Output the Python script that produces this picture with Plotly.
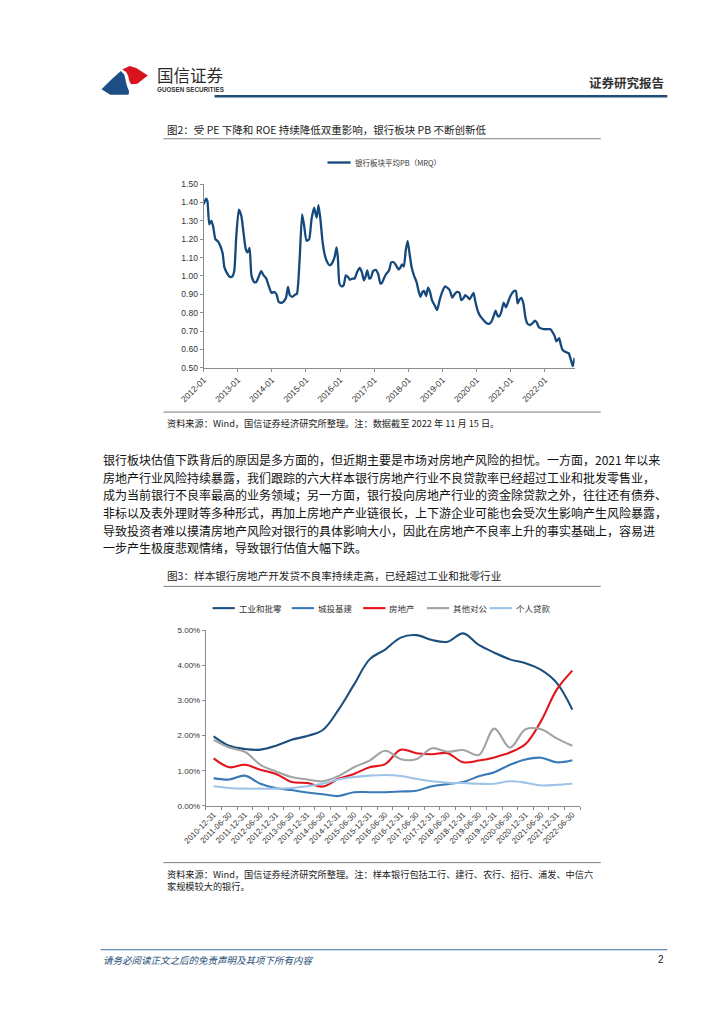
import plotly.graph_objects as go

W, H = 724, 1024

# ---------------- data: chart 1 (银行板块平均PB) ----------------
pb_dates = [
    "2012-01-01","2012-01-28","2012-02-11","2012-03-02","2012-03-25","2012-04-12","2012-05-06","2012-06-03",
    "2012-06-27","2012-07-24","2012-08-10","2012-09-14","2012-10-08","2012-11-04","2012-11-25","2012-12-15",
    "2013-01-12","2013-02-08","2013-03-03","2013-03-27","2013-04-16","2013-05-07","2013-05-27","2013-06-24",
    "2013-07-18","2013-08-11","2013-09-08","2013-10-05","2013-11-02","2013-11-26","2013-12-27",
    "2014-01-24","2014-02-19","2014-03-14","2014-04-07","2014-05-04","2014-06-01","2014-06-22","2014-07-12",
    "2014-08-09","2014-08-30","2014-09-26","2014-10-24","2014-11-20","2014-12-10",
    "2015-01-07","2015-02-04","2015-03-01","2015-03-29","2015-04-25","2015-05-15","2015-06-06","2015-06-26",
    "2015-07-23","2015-08-17","2015-09-10","2015-10-07","2015-11-04","2015-11-24","2015-12-08","2015-12-25",
    "2016-01-18","2016-02-08","2016-03-02","2016-03-26","2016-04-16","2016-05-10","2016-06-03","2016-07-01",
    "2016-07-28","2016-08-21","2016-09-11","2016-09-28","2016-10-18","2016-11-08","2016-11-25","2016-12-19",
    "2017-01-16","2017-02-13","2017-03-07","2017-03-24","2017-04-17","2017-05-11","2017-06-08","2017-07-01",
    "2017-07-29","2017-08-22","2017-09-19","2017-10-06","2017-10-23","2017-11-13","2017-12-03","2017-12-24",
    "2018-01-14","2018-02-04","2018-03-01","2018-03-29","2018-04-18","2018-05-09","2018-06-02","2018-06-19",
    "2018-07-09","2018-07-30","2018-08-20","2018-09-10","2018-10-07","2018-11-04","2018-12-01","2018-12-29",
    "2019-01-29","2019-02-20","2019-03-19","2019-04-16","2019-05-10","2019-06-03","2019-07-01","2019-07-21",
    "2019-08-11","2019-09-01","2019-09-25","2019-10-19","2019-11-08","2019-11-29","2019-12-19",
    "2020-01-16","2020-02-13","2020-03-14","2020-04-17","2020-05-14","2020-06-08","2020-07-05","2020-07-22",
    "2020-08-09","2020-08-26","2020-09-19","2020-10-16","2020-11-10","2020-12-03",
    "2021-01-01","2021-02-04","2021-02-24","2021-03-15","2021-04-05","2021-04-22","2021-05-16","2021-06-05",
    "2021-06-26","2021-07-23","2021-08-20","2021-09-17","2021-10-07","2021-10-28","2021-11-24","2021-12-25",
    "2022-01-29","2022-03-02","2022-03-26","2022-04-16","2022-05-03","2022-05-20","2022-06-03","2022-06-20",
    "2022-07-07","2022-07-27","2022-08-21","2022-09-12","2022-10-05","2022-10-26","2022-11-05","2022-11-15",
]
pb_values = [
    1.389,1.42,1.406,1.281,1.30,1.27,1.20,1.188,1.164,1.12,1.048,1.01,0.994,0.997,1.03,1.21,
    1.36,1.326,1.236,1.146,1.128,1.152,1.003,0.967,0.967,0.994,1.026,1.003,0.985,0.949,0.908,
    0.913,0.90,0.859,0.854,0.859,0.881,0.94,0.895,0.886,0.895,0.904,1.083,1.335,1.281,
    1.191,1.20,1.308,1.371,1.317,1.385,1.30,1.191,1.11,1.074,1.057,1.069,1.105,1.155,1.10,0.958,
    0.943,0.949,1.003,0.994,0.979,0.985,0.985,1.021,1.044,1.021,0.976,0.994,1.03,0.985,0.99,1.026,
    1.033,1.008,0.958,0.962,0.99,1.012,1.03,1.074,1.074,1.057,1.035,1.044,1.062,1.051,1.137,1.191,
    1.119,1.048,1.003,0.967,0.922,0.886,0.913,0.918,0.890,0.936,0.913,0.868,0.841,0.814,0.868,0.913,
    0.943,0.936,0.922,0.882,0.90,0.913,0.908,0.868,0.877,0.895,0.886,0.873,0.890,0.908,0.859,
    0.805,0.778,0.760,0.742,0.739,0.751,0.787,0.811,0.787,0.778,0.80,0.854,0.829,0.859,
    0.895,0.918,0.918,0.850,0.872,0.881,0.850,0.778,0.742,0.733,0.742,0.757,0.746,0.721,0.714,0.710,
    0.710,0.710,0.692,0.671,0.644,0.653,0.662,0.626,0.599,0.590,0.584,0.580,0.545,0.509,0.531,0.554,
]
pb_name = "银行板块平均PB（MRQ）"
pb_color = "#16497B"
pb_yticks = [0.50, 0.60, 0.70, 0.80, 0.90, 1.00, 1.10, 1.20, 1.30, 1.40, 1.50]

# ---------------- data: chart 2 (不良率, %) ----------------
npl_dates = [
    "2010-12-31","2011-06-30","2011-12-31","2012-06-30","2012-12-31","2013-06-30","2013-12-31","2014-06-30",
    "2014-12-31","2015-06-30","2015-12-31","2016-06-30","2016-12-31","2017-06-30","2017-12-31","2018-06-30",
    "2018-12-31","2019-06-30","2019-12-31","2020-06-30","2020-12-31","2021-06-30","2021-12-31","2022-06-30",
]
industry_wholesale = [1.98,1.71,1.62,1.60,1.71,1.88,1.99,2.16,2.73,3.45,4.17,4.45,4.79,4.86,4.72,4.67,
                      4.91,4.58,4.36,4.17,4.06,3.87,3.50,2.74]
lgfv_infra = [0.79,0.75,0.86,0.63,0.51,0.45,0.38,0.33,0.28,0.39,0.39,0.39,0.41,0.43,0.56,0.62,
              0.68,0.84,0.96,1.17,1.32,1.37,1.24,1.30]
real_estate = [1.35,1.10,1.17,1.03,0.91,0.68,0.65,0.55,0.77,0.91,1.10,1.19,1.60,1.50,1.47,1.50,
               1.24,1.29,1.38,1.52,1.76,2.42,3.31,3.85]
other_corp = [1.88,1.66,1.54,1.17,0.98,0.82,0.75,0.70,0.85,1.10,1.29,1.57,1.33,1.33,1.64,1.54,
              1.59,1.45,2.20,1.66,2.18,2.18,1.92,1.71]
personal = [0.56,0.51,0.49,0.49,0.49,0.51,0.56,0.63,0.75,0.82,0.86,0.88,0.85,0.77,0.70,0.66,
            0.65,0.63,0.63,0.70,0.66,0.58,0.60,0.63]
npl_names = ["工业和批零", "城投基建", "房地产", "其他对公", "个人贷款"]
npl_values = [industry_wholesale, lgfv_infra, real_estate, other_corp, personal]
npl_colors = ["#1B4F7E", "#3A78B8", "#E3131B", "#A3A3A3", "#9EC3E6"]
npl_yticks = [0, 1, 2, 3, 4, 5]
npl_yticktext = ["0.00%", "1.00%", "2.00%", "3.00%", "4.00%", "5.00%"]

# ---------------- texts ----------------
fig2_title = "图2：受 PE 下降和 ROE 持续降低双重影响，银行板块 PB 不断创新低"
fig2_source = "资料来源：Wind，国信证券经济研究所整理。注：数据截至 2022 年 11 月 15 日。"
body_lines = [
    "银行板块估值下跌背后的原因是多方面的，但近期主要是市场对房地产风险的担忧。一方面，2021 年以来",
    "房地产行业风险持续暴露，我们跟踪的六大样本银行房地产行业不良贷款率已经超过工业和批发零售业，",
    "成为当前银行不良率最高的业务领域；另一方面，银行投向房地产行业的资金除贷款之外，往往还有债券、",
    "非标以及表外理财等多种形式，再加上房地产产业链很长，上下游企业可能也会受次生影响产生风险暴露，",
    "导致投资者难以摸清房地产风险对银行的具体影响大小，因此在房地产不良率上升的事实基础上，容易进",
    "一步产生极度悲观情绪，导致银行估值大幅下跌。",
]
fig3_title = "图3：样本银行房地产开发贷不良率持续走高，已经超过工业和批零行业"
fig3_source = ["资料来源：Wind，国信证券经济研究所整理。注：样本银行包括工行、建行、农行、招行、浦发、中信六",
               "家规模较大的银行。"]
footer_text = "请务必阅读正文之后的免责声明及其项下所有内容"
page_no = "2"
header_right = "证券研究报告"
logo_cn = "国信证券"
logo_en = "GUOSEN SECURITIES"

CJK = "Noto Sans CJK SC"
NUM = "Liberation Sans"

def px(x):
    return x / W

def py(y):
    return 1 - y / H

fig = go.Figure()

fig.add_trace(go.Scatter(
    x=pb_dates, y=pb_values, name=pb_name, mode="lines",
    line=dict(color=pb_color, width=2.3, shape="spline", smoothing=0.5),
    xaxis="x", yaxis="y",
))

for name, vals, col in zip(npl_names, npl_values, npl_colors):
    fig.add_trace(go.Scatter(
        x=npl_dates, y=vals, name=name, mode="lines",
        line=dict(color=col, width=2.1, shape="spline", smoothing=1.0),
        xaxis="x2", yaxis="y2",
    ))

axis_col = "#8C8C8C"
tick_font = dict(family=NUM, size=8.5, color="#333333")
tick_font2 = dict(family=NUM, size=8, color="#333333")

fig.update_layout(
    width=W, height=H,
    margin=dict(l=0, r=0, t=0, b=0),
    paper_bgcolor="white", plot_bgcolor="white",
    font=dict(family=CJK, color="#222222"),
    showlegend=False,
    xaxis=dict(
        domain=[px(176.7), px(561)], anchor="y", type="date",
        range=["2012-01-01", "2022-11-15"],
        tick0="2012-01-01", dtick="M12", tickformat="%Y-%m", tickangle=-45,
        showgrid=False, zeroline=False, showline=True, linecolor=axis_col, linewidth=1,
        ticks="outside", ticklen=3, tickcolor=axis_col, tickfont=tick_font,
    ),
    yaxis=dict(
        domain=[py(358.3), py(172.7)], anchor="x",
        range=[0.5, 1.5], tickvals=pb_yticks, tickformat=".2f",
        showgrid=False, zeroline=False, showline=True, linecolor=axis_col, linewidth=1,
        ticks="outside", ticklen=3, tickcolor=axis_col, tickfont=tick_font,
    ),
    xaxis2=dict(
        domain=[px(179), px(566.7)], anchor="y2", type="category",
        categoryorder="array", categoryarray=npl_dates,
        range=[-0.5, len(npl_dates) - 0.5], tickangle=-45, tickson="boundaries",
        showgrid=False, zeroline=False, showline=True, linecolor=axis_col, linewidth=1,
        ticks="outside", ticklen=3, tickcolor=axis_col, tickfont=tick_font2,
    ),
    yaxis2=dict(
        domain=[py(800.7), py(623.3)], anchor="x2",
        range=[0, 5], tickmode="array", tickvals=npl_yticks, ticktext=npl_yticktext,
        showgrid=False, zeroline=False, showline=True, linecolor=axis_col, linewidth=1,
        ticks="outside", ticklen=3, tickcolor=axis_col, tickfont=tick_font2,
    ),
)

shapes = []
annotations = []

def hline(x0, x1, y, color, width):
    shapes.append(dict(type="line", xref="paper", yref="paper",
                       x0=px(x0), x1=px(x1), y0=py(y), y1=py(y),
                       line=dict(color=color, width=width)))

def text(x, y, s, size, color="#222222", family=CJK, anchor="left", bold=False, italic=False):
    if bold:
        s = "<b>" + s + "</b>"
    if italic:
        s = "<i>" + s + "</i>"
    annotations.append(dict(xref="paper", yref="paper", x=px(x), y=py(y), text=s,
                            showarrow=False, xanchor=anchor, yanchor="middle", align="left",
                            font=dict(family=family, size=size, color=color)))

def path(points, color):
    d = "M " + " L ".join(f"{px(a):.5f},{py(b):.5f}" for a, b in points) + " Z"
    shapes.append(dict(type="path", xref="paper", yref="paper", path=d,
                       fillcolor=color, line=dict(width=0)))

# ---- header / logo ----
path([(71, 77), (82, 66.5), (91, 58.5), (94.5, 62), (95.5, 66), (96.5, 71), (98, 75.5), (99.5, 79), (99, 82.5), (80, 82.5)], "#1D4F86")
path([(92.5, 57), (100, 53.5), (107, 55.5), (119, 63), (108, 71.5), (101.5, 72), (99.5, 68), (98.5, 63), (96.5, 59.5)], "#D7141D")
text(126, 62.5, logo_cn, 16.5, color="#2B2B2B")
text(126, 77, logo_en, 6.3, color="#333333", family=NUM, bold=True)
text(656, 70, header_right, 12.5, color="#333333", anchor="right", bold=True)
hline(188, 657, 84, "#1F4E79", 2.5)

# ---- figure 2 block ----
text(137, 117.5, fig2_title, 10.5)
hline(135, 588, 127, "#7F7F7F", 1)
# legend (chart 1)
hline(305, 329, 151, pb_color, 2.3)
text(331, 151, pb_name, 7.5, color="#333333")
hline(135, 588, 403, "#7F7F7F", 1)
text(137, 414, fig2_source, 9.2)

# ---- body ----
for i, line in enumerate(body_lines):
    text(70, 451 + i * 17.8, line, 12.0, color="#111111")

# ---- figure 3 block ----
text(137, 568, fig3_title, 10.6)
hline(135, 588, 579, "#7F7F7F", 1)
# legend (chart 2)
leg_x = [186, 268, 342, 408, 473]
for lx, name, col in zip(leg_x, npl_names, npl_colors):
    hline(lx, lx + 23, 601, col, 2.1)
    text(lx + 25, 601, name, 8.5, color="#333333")
hline(135, 588, 858, "#7F7F7F", 1)
text(137, 876, "<br>".join(fig3_source), 9.2)

# ---- footer ----
hline(70, 657, 946, "#3A6EA5", 1)
text(70, 956, footer_text, 9.5, color="#1F4E79", italic=True)
text(656, 956, page_no, 10, color="#222222", family=NUM, anchor="right")

fig.update_layout(shapes=shapes, annotations=annotations)

fig.write_html("out.html")
